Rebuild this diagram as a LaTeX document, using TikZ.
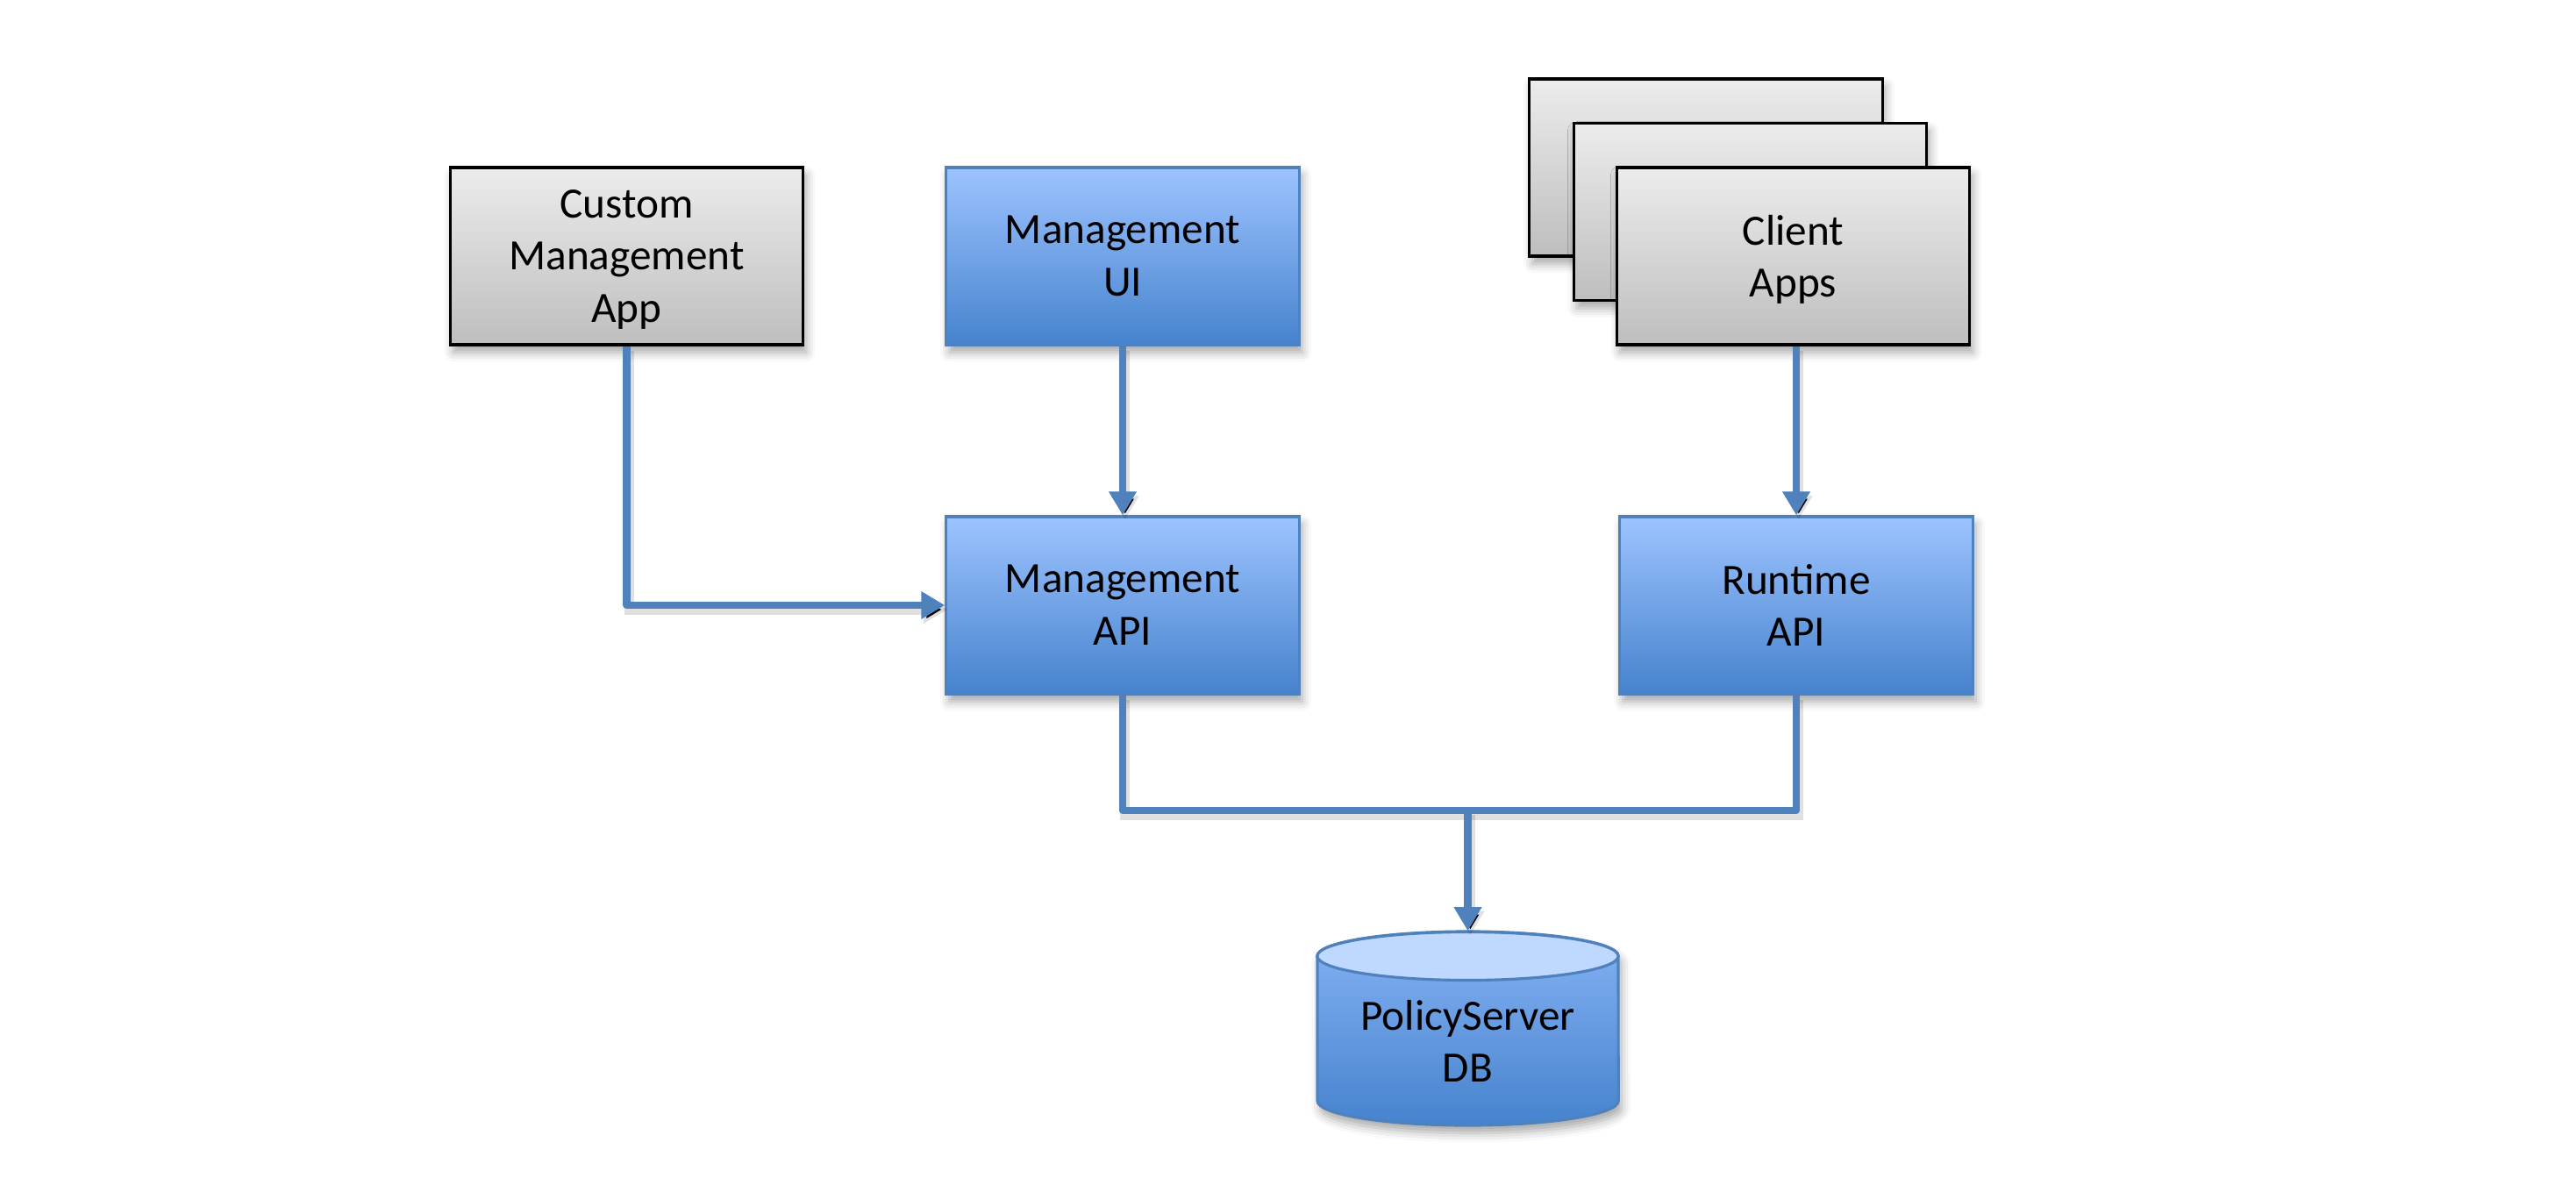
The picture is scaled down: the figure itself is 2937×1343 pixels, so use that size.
\documentclass[tikz,border=0pt]{standalone}
\usepackage{fontspec}
\setmainfont{Carlito}
\usetikzlibrary{arrows.meta,shadows.blur}
\definecolor{bord}{RGB}{79,129,189}
\definecolor{btop}{RGB}{157,195,255}
\definecolor{bmid}{RGB}{128,174,241}
\definecolor{bbot}{RGB}{70,131,206}
\definecolor{gtop}{RGB}{236,236,236}
\definecolor{gmid}{RGB}{216,216,216}
\definecolor{gbot}{RGB}{190,190,190}
\definecolor{dbtopc}{RGB}{190,216,255}
\tikzset{
  lbl/.style={font=\fontsize{14}{17}\selectfont, align=center},
  softshadow/.style={blur shadow={shadow xshift=1pt, shadow yshift=-2.5pt, shadow blur radius=3pt, shadow opacity=35}},
  bluebox/.style={lbl, rectangle, draw=bord, line width=0.9pt, top color=btop, middle color=bmid, bottom color=bbot,
    minimum width=4.02cm, minimum height=2.02cm, inner sep=0pt, softshadow},
  graybox/.style={lbl, rectangle, draw=black, line width=0.9pt, top color=gtop, middle color=gmid, bottom color=gbot,
    minimum width=4.02cm, minimum height=2.02cm, inner sep=0pt, softshadow},
  conn/.style={draw=bord, line width=2.3pt, line join=round,
    preaction={draw=black, draw opacity=0.12, line width=3.2pt, transform canvas={shift={(0.8pt,-1.4pt)}}}},
  arr/.style={conn, -{Triangle[length=0.27cm, width=0.3cm]}}
}
\begin{document}
\begin{tikzpicture}[x=0.01cm, y=-0.01cm]
\useasboundingbox (0,0) rectangle (2937,1343);

% top row
\node[graybox] (cma) at (714.5,292) {Custom\\Management\\\smash{App}};
\node[bluebox] (mui) at (1280,292) {Management\\UI};
\node[graybox] (cback) at (1945,191) {};
\node[graybox] (cmid) at (1995.5,241.5) {};
\node[graybox] (client) at (2044.5,292) {Client\\\smash{Apps}};

% middle row
\node[bluebox] (mapi) at (1280,690) {Management\\API};
\node[bluebox] (rapi) at (2048,690) {Runtime\\API};

% database cylinder
\path[top color=bmid!80!btop, bottom color=bbot, softshadow, draw=bord, line width=0.9pt]
  (1502,1090) -- (1502,1255) arc[start angle=180, end angle=360, x radius=1.715cm, y radius=0.28cm]
  -- (1845,1090) arc[start angle=0, end angle=180, x radius=1.715cm, y radius=0.28cm] -- cycle;
\path[fill=dbtopc, draw=bord, line width=0.9pt] (1673.5,1090) ellipse[x radius=1.715cm, y radius=0.275cm];
\node[minimum width=3.43cm, minimum height=2.21cm, inner sep=0pt] (db) at (1673.5,1172.5) {};
\node[lbl] (dblabel) at (1673.5,1187) {PolicyServer\\DB};

% connectors
\coordinate (j) at (1673.5,924);
\draw[arr] (cma.south) |- (mapi.west);
\draw[arr] (mui.south) -- (mapi.north);
\draw[arr] (client.south -| rapi.north) -- (rapi.north);
\draw[conn] (mapi.south) |- (j) -| (rapi.south);
\draw[arr] (j) -- (db.north);
\end{tikzpicture}
\end{document}
